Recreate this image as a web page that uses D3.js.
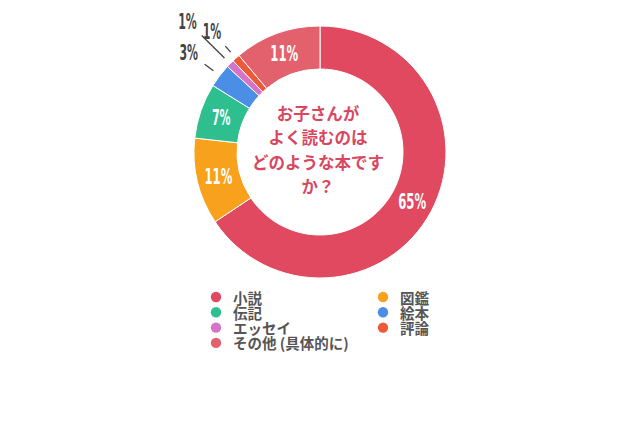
<!DOCTYPE html>
<html>
<head>
<meta charset="utf-8">
<script src="https://cdn.jsdelivr.net/npm/d3@7"></script>
<style>
  body { margin: 0; background: #fff; }
  svg { display: block; }
</style>
</head>
<body>
<div id="chart"></div>
<script>
// data
var categories = ['小説', '図鑑', '伝記', '絵本', 'エッセイ', '評論', 'その他 (具体的に)'];
var values = [65, 11, 7, 3, 1, 1, 11];
var valueLabels = ['65%', '11%', '7%', '3%', '1%', '1%', '11%'];
var titleLines = ['お子さんが', 'よく読むのは', 'どのような本です', 'か？'];

var colors = ['#e0495f', '#f8a11c', '#2fbf8f', '#4a8ee6', '#d672c8', '#ec5a38', '#e3606d'];

var width = 640;
var height = 426;
var cx = 320, cy = 152;
var outerR = 126, innerR = 83;
// extra distance for the labels that sit outside the ring (small slices only)
var outsideOffset = [0, 0, 0, 39, 60, 36, 0];

var svg = d3.select('#chart')
  .append('svg')
  .attr('width', width)
  .attr('height', height);

var slices = values.map(function(v, i) { return { value: v, index: i }; });

var pie = d3.pie()
  .sort(null)
  .value(function(d) { return d.value; });

var arc = d3.arc()
  .innerRadius(innerR)
  .outerRadius(outerR);

var g = svg.append('g')
  .attr('transform', 'translate(' + cx + ',' + cy + ')');

var arcs = pie(slices);

g.selectAll('path')
  .data(arcs)
  .enter()
  .append('path')
  .attr('d', arc)
  .attr('fill', function(d) { return colors[d.data.index]; })
  .attr('stroke', '#fff')
  .attr('stroke-width', 1);

function midAngle(d) { return (d.startAngle + d.endAngle) / 2; }
function polar(r, a) { return [Math.sin(a) * r, -Math.cos(a) * r]; }

// labels inside the ring
var inside = arcs.filter(function(d) { return outsideOffset[d.data.index] === 0; });
g.selectAll('text.in')
  .data(inside)
  .enter()
  .append('text')
  .attr('class', 'in')
  .attr('x', function(d) { return arc.centroid(d)[0]; })
  .attr('y', function(d) { return arc.centroid(d)[1]; })
  .attr('text-anchor', 'middle')
  .attr('dominant-baseline', 'central')
  .attr('font-family', 'DejaVu Sans Condensed, DejaVu Sans')
  .attr('font-weight', 'bold')
  .attr('font-size', 22)
  .attr('fill', '#fff')
  .attr('textLength', function(d) { return valueLabels[d.data.index].length * 9.3; })
  .attr('lengthAdjust', 'spacingAndGlyphs')
  .text(function(d) { return valueLabels[d.data.index]; });

// small slices: label outside with a radial leader line
var outside = arcs.filter(function(d) { return outsideOffset[d.data.index] > 0; });
g.selectAll('line.lead')
  .data(outside)
  .enter()
  .append('line')
  .attr('class', 'lead')
  .attr('x1', function(d) { return polar(outerR + 8, midAngle(d))[0]; })
  .attr('y1', function(d) { return polar(outerR + 8, midAngle(d))[1]; })
  .attr('x2', function(d) { return polar(outerR + outsideOffset[d.data.index] - 20, midAngle(d))[0]; })
  .attr('y2', function(d) { return polar(outerR + outsideOffset[d.data.index] - 20, midAngle(d))[1]; })
  .attr('stroke', '#444')
  .attr('stroke-width', 1.3);

g.selectAll('text.out')
  .data(outside)
  .enter()
  .append('text')
  .attr('class', 'out')
  .attr('x', function(d) { return polar(outerR + outsideOffset[d.data.index], midAngle(d))[0]; })
  .attr('y', function(d) { return polar(outerR + outsideOffset[d.data.index], midAngle(d))[1]; })
  .attr('text-anchor', 'middle')
  .attr('dominant-baseline', 'central')
  .attr('font-family', 'DejaVu Sans Condensed, DejaVu Sans')
  .attr('font-weight', 'bold')
  .attr('font-size', 22)
  .attr('fill', '#444')
  .attr('textLength', function(d) { return valueLabels[d.data.index].length * 9.3; })
  .attr('lengthAdjust', 'spacingAndGlyphs')
  .text(function(d) { return valueLabels[d.data.index]; });

// title in the hole
g.selectAll('text.title')
  .data(titleLines)
  .enter()
  .append('text')
  .attr('class', 'title')
  .attr('x', -2)
  .attr('y', function(d, i) { return -2.5 + (i - 1.5) * 24.6; })
  .attr('text-anchor', 'middle')
  .attr('dominant-baseline', 'central')
  .attr('font-family', 'Noto Sans CJK JP')
  .attr('font-weight', 'bold')
  .attr('font-size', 16.5)
  .attr('fill', '#d9475f')
  .text(function(d) { return d; });

// legend, two columns filled row by row
var legend = svg.append('g');
var colX = [216, 383];
var rowY = d3.scaleLinear().domain([0, 1]).range([297, 312.3]);

var items = legend.selectAll('g')
  .data(categories)
  .enter()
  .append('g')
  .attr('transform', function(d, i) {
    return 'translate(' + colX[i % 2] + ',' + rowY(Math.floor(i / 2)) + ')';
  });

items.append('circle')
  .attr('r', 5.2)
  .attr('fill', function(d, i) { return colors[i]; });

items.append('text')
  .attr('x', 17)
  .attr('dominant-baseline', 'central')
  .attr('font-family', 'Noto Sans CJK JP')
  .attr('font-weight', 'bold')
  .attr('font-size', 14.5)
  .attr('fill', '#555')
  .text(function(d) { return d; });
</script>
</body>
</html>
